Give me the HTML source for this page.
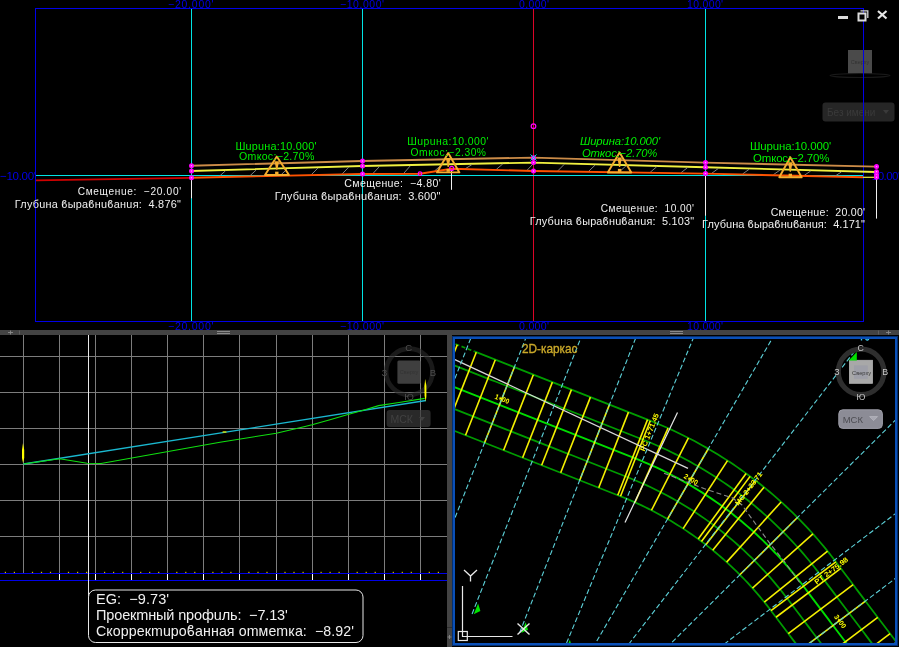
<!DOCTYPE html>
<html><head><meta charset="utf-8"><style>
html,body{margin:0;padding:0;background:#000;overflow:hidden;}
svg{display:block;font-family:"Liberation Sans",sans-serif;will-change:transform;}
</style></head><body>
<svg width="899" height="647" viewBox="0 0 899 647">
<rect x="0" y="0" width="899" height="647" fill="#000"/>
<line x1="35.00" y1="8.50" x2="863.50" y2="8.50" stroke="#0000e8" stroke-width="1" />
<line x1="35.00" y1="321.50" x2="863.50" y2="321.50" stroke="#0000e8" stroke-width="1" />
<line x1="35.50" y1="8.00" x2="35.50" y2="322.00" stroke="#0000e8" stroke-width="1" />
<line x1="863.50" y1="8.00" x2="863.50" y2="322.00" stroke="#0000e8" stroke-width="1" />
<line x1="191.50" y1="9.00" x2="191.50" y2="321.00" stroke="#00e4e4" stroke-width="1" />
<line x1="362.50" y1="9.00" x2="362.50" y2="321.00" stroke="#00e4e4" stroke-width="1" />
<line x1="705.50" y1="9.00" x2="705.50" y2="321.00" stroke="#00e4e4" stroke-width="1" />
<line x1="533.50" y1="9.00" x2="533.50" y2="321.00" stroke="#dc0528" stroke-width="1" />
<line x1="36.00" y1="175.50" x2="863.00" y2="175.50" stroke="#00e4e4" stroke-width="1" />
<text style="white-space:pre" x="168.00" y="8.30" font-family="Liberation Sans" font-style="normal" font-weight="normal" font-size="10.43" fill="#0000e8" textLength="45.61" lengthAdjust="spacing" >−20.000&#x27;</text>
<text style="white-space:pre" x="340.00" y="8.30" font-family="Liberation Sans" font-style="normal" font-weight="normal" font-size="10.43" fill="#0000e8" textLength="44.02" lengthAdjust="spacing" >−10.000&#x27;</text>
<text style="white-space:pre" x="519.00" y="8.30" font-family="Liberation Sans" font-style="normal" font-weight="normal" font-size="10.43" fill="#0000e8" textLength="30.00" lengthAdjust="spacing" >0.000&#x27;</text>
<text style="white-space:pre" x="687.00" y="8.30" font-family="Liberation Sans" font-style="normal" font-weight="normal" font-size="10.43" fill="#0000e8" textLength="36.03" lengthAdjust="spacing" >10.000&#x27;</text>
<text style="white-space:pre" x="168.00" y="329.50" font-family="Liberation Sans" font-style="normal" font-weight="normal" font-size="10.58" fill="#0000e8" textLength="45.61" lengthAdjust="spacing" >−20.000&#x27;</text>
<text style="white-space:pre" x="340.00" y="329.50" font-family="Liberation Sans" font-style="normal" font-weight="normal" font-size="10.58" fill="#0000e8" textLength="44.02" lengthAdjust="spacing" >−10.000&#x27;</text>
<text style="white-space:pre" x="519.00" y="329.50" font-family="Liberation Sans" font-style="normal" font-weight="normal" font-size="10.58" fill="#0000e8" textLength="30.00" lengthAdjust="spacing" >0.000&#x27;</text>
<text style="white-space:pre" x="687.00" y="329.50" font-family="Liberation Sans" font-style="normal" font-weight="normal" font-size="10.58" fill="#0000e8" textLength="36.03" lengthAdjust="spacing" >10.000&#x27;</text>
<text style="white-space:pre" x="0.00" y="180.00" font-family="Liberation Sans" font-style="normal" font-weight="normal" font-size="11.59" fill="#0000e8" textLength="36.01" lengthAdjust="spacing" >−10.00&#x27;</text>
<text style="white-space:pre" x="871.80" y="180.00" font-family="Liberation Sans" font-style="normal" font-weight="normal" font-size="11.59" fill="#0000e8" textLength="28.31" lengthAdjust="spacing" >10.00&#x27;</text>
<polyline points="191.00,165.70 362.00,161.00 533.00,157.60 705.00,162.60 876.00,166.60" fill="none" stroke="#cc8c48" stroke-width="1.9" />
<polyline points="191.00,171.00 362.00,166.00 533.00,162.60 705.00,167.30 876.00,172.00" fill="none" stroke="#f0f040" stroke-width="1.9" />
<line x1="219.00" y1="176.59" x2="225.50" y2="170.79" stroke="#8c8c8c" stroke-width="0.9" />
<line x1="249.80" y1="175.93" x2="256.30" y2="169.89" stroke="#8c8c8c" stroke-width="0.9" />
<line x1="280.60" y1="175.26" x2="287.10" y2="168.99" stroke="#8c8c8c" stroke-width="0.9" />
<line x1="311.40" y1="174.59" x2="317.90" y2="168.09" stroke="#8c8c8c" stroke-width="0.9" />
<line x1="342.20" y1="173.93" x2="348.70" y2="167.19" stroke="#8c8c8c" stroke-width="0.9" />
<line x1="373.00" y1="173.44" x2="379.50" y2="166.45" stroke="#8c8c8c" stroke-width="0.9" />
<line x1="403.80" y1="173.28" x2="410.30" y2="165.84" stroke="#8c8c8c" stroke-width="0.9" />
<line x1="434.60" y1="170.93" x2="441.10" y2="165.23" stroke="#8c8c8c" stroke-width="0.9" />
<line x1="465.40" y1="168.68" x2="471.90" y2="164.61" stroke="#8c8c8c" stroke-width="0.9" />
<line x1="496.20" y1="169.51" x2="502.70" y2="164.00" stroke="#8c8c8c" stroke-width="0.9" />
<line x1="527.00" y1="170.34" x2="533.50" y2="163.41" stroke="#8c8c8c" stroke-width="0.9" />
<line x1="557.80" y1="170.87" x2="564.30" y2="164.26" stroke="#8c8c8c" stroke-width="0.9" />
<line x1="588.60" y1="171.34" x2="595.10" y2="165.10" stroke="#8c8c8c" stroke-width="0.9" />
<line x1="619.40" y1="171.81" x2="625.90" y2="165.94" stroke="#8c8c8c" stroke-width="0.9" />
<line x1="650.20" y1="172.27" x2="656.70" y2="166.78" stroke="#8c8c8c" stroke-width="0.9" />
<line x1="681.00" y1="172.74" x2="687.50" y2="167.62" stroke="#8c8c8c" stroke-width="0.9" />
<line x1="711.80" y1="173.26" x2="718.30" y2="168.47" stroke="#8c8c8c" stroke-width="0.9" />
<line x1="742.60" y1="173.98" x2="749.10" y2="169.31" stroke="#8c8c8c" stroke-width="0.9" />
<line x1="773.40" y1="174.70" x2="779.90" y2="170.16" stroke="#8c8c8c" stroke-width="0.9" />
<line x1="804.20" y1="175.42" x2="810.70" y2="171.01" stroke="#8c8c8c" stroke-width="0.9" />
<line x1="835.00" y1="176.14" x2="841.50" y2="171.85" stroke="#8c8c8c" stroke-width="0.9" />
<polyline points="191.00,177.70 362.00,174.00 420.00,173.70 451.50,168.80 533.00,171.00 705.00,173.60 863.00,177.30" fill="none" stroke="#ff5200" stroke-width="1.9" />
<polyline points="36.00,180.30 191.00,177.90" fill="none" stroke="#d00000" stroke-width="1.8" />
<line x1="863.00" y1="177.30" x2="876.00" y2="177.30" stroke="#f0f040" stroke-width="1.2" />
<line x1="191.50" y1="179.00" x2="191.50" y2="198.30" stroke="#f0f0f0" stroke-width="1" />
<line x1="451.50" y1="170.00" x2="451.50" y2="189.80" stroke="#f0f0f0" stroke-width="1" />
<line x1="705.50" y1="176.00" x2="705.50" y2="215.70" stroke="#f0f0f0" stroke-width="1" />
<line x1="876.50" y1="179.00" x2="876.50" y2="218.60" stroke="#f0f0f0" stroke-width="1" />
<circle cx="191.5" cy="165.7" r="2.5" fill="#ff00ff"/><circle cx="191.5" cy="165.7" r="0.7" fill="#ffb0ff"/>
<circle cx="191.5" cy="171" r="2.5" fill="#ff00ff"/><circle cx="191.5" cy="171" r="0.7" fill="#ffb0ff"/>
<circle cx="191.5" cy="177.7" r="2.5" fill="#ff00ff"/><circle cx="191.5" cy="177.7" r="0.7" fill="#ffb0ff"/>
<circle cx="362.5" cy="161" r="2.5" fill="#ff00ff"/><circle cx="362.5" cy="161" r="0.7" fill="#ffb0ff"/>
<circle cx="362.5" cy="166" r="2.5" fill="#ff00ff"/><circle cx="362.5" cy="166" r="0.7" fill="#ffb0ff"/>
<circle cx="362.5" cy="174" r="2.5" fill="#ff00ff"/><circle cx="362.5" cy="174" r="0.7" fill="#ffb0ff"/>
<circle cx="533.5" cy="157.7" r="2.5" fill="#ff00ff"/><circle cx="533.5" cy="157.7" r="0.7" fill="#ffb0ff"/>
<circle cx="533.5" cy="162.6" r="2.5" fill="#ff00ff"/><circle cx="533.5" cy="162.6" r="0.7" fill="#ffb0ff"/>
<circle cx="533.5" cy="171" r="2.5" fill="#ff00ff"/><circle cx="533.5" cy="171" r="0.7" fill="#ffb0ff"/>
<circle cx="705.5" cy="162.6" r="2.5" fill="#ff00ff"/><circle cx="705.5" cy="162.6" r="0.7" fill="#ffb0ff"/>
<circle cx="705.5" cy="167.3" r="2.5" fill="#ff00ff"/><circle cx="705.5" cy="167.3" r="0.7" fill="#ffb0ff"/>
<circle cx="705.5" cy="173.6" r="2.5" fill="#ff00ff"/><circle cx="705.5" cy="173.6" r="0.7" fill="#ffb0ff"/>
<circle cx="876.5" cy="166.6" r="2.5" fill="#ff00ff"/><circle cx="876.5" cy="166.6" r="0.7" fill="#ffb0ff"/>
<circle cx="876.5" cy="171.8" r="2.5" fill="#ff00ff"/><circle cx="876.5" cy="171.8" r="0.7" fill="#ffb0ff"/>
<circle cx="876.5" cy="175" r="2.5" fill="#ff00ff"/><circle cx="876.5" cy="175" r="0.7" fill="#ffb0ff"/>
<circle cx="876.5" cy="177.2" r="2.5" fill="#ff00ff"/><circle cx="876.5" cy="177.2" r="0.7" fill="#ffb0ff"/>
<circle cx="533.5" cy="126.2" r="2.3" fill="none" stroke="#ff00ff" stroke-width="1.2"/>
<circle cx="420" cy="173.7" r="1.8" fill="none" stroke="#ff00ff" stroke-width="1.2"/>
<circle cx="451.7" cy="168.4" r="2.0" fill="none" stroke="#ff00ff" stroke-width="1.2"/>
<path d="M530.5,154.5 L536.5,160.5 M536.5,154.5 L530.5,160.5" stroke="#00e4e4" stroke-width="1"/>
<polygon points="276.8,156.5 289,175 265,175" fill="none" stroke="#f5ad2e" stroke-width="1.9" stroke-linejoin="round"/>
<polygon points="274.6,161.125 279.0,161.125 277.40000000000003,169.82 276.2,169.82" fill="#f5ad2e"/>
<rect x="275.1" y="171.67" width="3.4" height="2.775" fill="#f5ad2e"/>
<polygon points="448.2,153.1 459.4,172.4 437,172.4" fill="none" stroke="#f5ad2e" stroke-width="1.9" stroke-linejoin="round"/>
<polygon points="446.0,157.925 450.4,157.925 448.8,166.996 447.59999999999997,166.996" fill="#f5ad2e"/>
<rect x="446.5" y="168.926" width="3.4" height="2.895000000000002" fill="#f5ad2e"/>
<polygon points="619.6,152.5 631.3,172.5 607.8,172.5" fill="none" stroke="#f5ad2e" stroke-width="1.9" stroke-linejoin="round"/>
<polygon points="617.4,157.5 621.8000000000001,157.5 620.2,166.9 619.0,166.9" fill="#f5ad2e"/>
<rect x="617.9" y="168.9" width="3.4" height="3.0" fill="#f5ad2e"/>
<polygon points="790.3,157.2 801.7,177.3 779.3,177.3" fill="none" stroke="#f5ad2e" stroke-width="1.9" stroke-linejoin="round"/>
<polygon points="788.0999999999999,162.225 792.5,162.225 790.9,171.672 789.6999999999999,171.672" fill="#f5ad2e"/>
<rect x="788.5999999999999" y="173.68200000000002" width="3.4" height="3.0150000000000032" fill="#f5ad2e"/>
<text style="white-space:pre" x="235.40" y="149.50" font-family="Liberation Sans" font-style="normal" font-weight="normal" font-size="10.87" fill="#00f000" textLength="81.22" lengthAdjust="spacing" >Шuрuна:10.000&#x27;</text>
<text style="white-space:pre" x="239.00" y="159.70" font-family="Liberation Sans" font-style="normal" font-weight="normal" font-size="10.58" fill="#00f000" textLength="75.40" lengthAdjust="spacing" >Оmкос:−2.70%</text>
<text style="white-space:pre" x="407.20" y="144.60" font-family="Liberation Sans" font-style="normal" font-weight="normal" font-size="10.43" fill="#00f000" textLength="81.42" lengthAdjust="spacing" >Шuрuна:10.000&#x27;</text>
<text style="white-space:pre" x="410.60" y="156.30" font-family="Liberation Sans" font-style="normal" font-weight="normal" font-size="10.29" fill="#00f000" textLength="75.40" lengthAdjust="spacing" >Оmкос:−2.30%</text>
<text style="white-space:pre" x="579.90" y="145.40" font-family="Liberation Sans" font-style="italic" font-weight="normal" font-size="11.30" fill="#00f000" textLength="80.20" lengthAdjust="spacing" >Шuрuна:10.000&#x27;</text>
<text style="white-space:pre" x="582.00" y="156.60" font-family="Liberation Sans" font-style="italic" font-weight="normal" font-size="11.30" fill="#00f000" textLength="75.40" lengthAdjust="spacing" >Оmкос:−2.70%</text>
<text style="white-space:pre" x="749.90" y="149.50" font-family="Liberation Sans" font-style="normal" font-weight="normal" font-size="11.45" fill="#00f000" textLength="81.22" lengthAdjust="spacing" >Шuрuна:10.000&#x27;</text>
<text style="white-space:pre" x="753.00" y="161.50" font-family="Liberation Sans" font-style="normal" font-weight="normal" font-size="11.45" fill="#00f000" textLength="76.40" lengthAdjust="spacing" >Оmкос:−2.70%</text>
<text style="white-space:pre" x="77.70" y="195.00" font-family="Liberation Sans" font-style="normal" font-weight="normal" font-size="10.14" fill="#f0f0f0" textLength="103.41" lengthAdjust="spacing" >Смещенuе:  −20.00&#x27;</text>
<text style="white-space:pre" x="14.80" y="207.60" font-family="Liberation Sans" font-style="normal" font-weight="normal" font-size="10.87" fill="#f0f0f0" textLength="166.02" lengthAdjust="spacing" >Глубuна ϐыраϐнuϐанuя:  4.876&quot;</text>
<text style="white-space:pre" x="344.30" y="186.90" font-family="Liberation Sans" font-style="normal" font-weight="normal" font-size="10.58" fill="#f0f0f0" textLength="96.40" lengthAdjust="spacing" >Смещенuе:  −4.80&#x27;</text>
<text style="white-space:pre" x="274.80" y="199.60" font-family="Liberation Sans" font-style="normal" font-weight="normal" font-size="11.01" fill="#f0f0f0" textLength="165.61" lengthAdjust="spacing" >Глубuна ϐыраϐнuϐанuя:  3.600&quot;</text>
<text style="white-space:pre" x="600.80" y="212.00" font-family="Liberation Sans" font-style="normal" font-weight="normal" font-size="10.14" fill="#f0f0f0" textLength="93.20" lengthAdjust="spacing" >Смещенuе:  10.00&#x27;</text>
<text style="white-space:pre" x="529.80" y="224.80" font-family="Liberation Sans" font-style="normal" font-weight="normal" font-size="10.87" fill="#f0f0f0" textLength="164.21" lengthAdjust="spacing" >Глубuна ϐыраϐнuϐанuя:  5.103&quot;</text>
<text style="white-space:pre" x="770.70" y="215.50" font-family="Liberation Sans" font-style="normal" font-weight="normal" font-size="10.58" fill="#f0f0f0" textLength="94.40" lengthAdjust="spacing" >Смещенuе:  20.00&#x27;</text>
<text style="white-space:pre" x="702.10" y="227.90" font-family="Liberation Sans" font-style="normal" font-weight="normal" font-size="11.01" fill="#f0f0f0" textLength="162.81" lengthAdjust="spacing" >Глубuна ϐыраϐнuϐанuя:  4.171&quot;</text>
<rect x="838" y="16" width="10" height="3" fill="#dcdcdc"/>
<path d="M860.5,10.8 L867.8,10.8 L867.8,18" fill="none" stroke="#d8d8d8" stroke-width="1.3"/>
<rect x="858.5" y="13.5" width="7" height="7" fill="#000" stroke="#dcdcdc" stroke-width="2"/>
<path d="M878,11 L886.5,18.5 M886.5,11 L878,18.5" stroke="#e6e6e6" stroke-width="2.2"/>
<rect x="848" y="50" width="24" height="24" fill="#4a4a4a"/>
<text x="860" y="64" font-family="Liberation Sans" font-size="5.5" fill="#333" text-anchor="middle">Сверху</text>
<ellipse cx="860" cy="75.5" rx="30" ry="2" fill="none" stroke="#191919" stroke-width="1.1"/>
<rect x="822.5" y="102.5" width="72" height="19" rx="3" fill="#262626"/>
<text x="827" y="116" font-family="Liberation Sans" font-size="10" fill="#3a3a3a">Без имени</text>
<path d="M883,110 L889,110 L886,114 Z" fill="#3a3a3a"/>
<line x1="863.50" y1="40.00" x2="863.50" y2="130.00" stroke="#0000e8" stroke-width="1" />
<rect x="0" y="330" width="899" height="5" fill="#434343"/>
<rect x="447" y="330" width="5" height="317" fill="#434343"/>
<path d="M8,332.5 H13 M10.5,330.5 V334.5" stroke="#8a8a8a" stroke-width="0.9"/>
<line x1="19.50" y1="330.50" x2="19.50" y2="334.50" stroke="#5e5e5e" stroke-width="1" />
<path d="M886,332.5 H891 M888.5,330.5 V334.5" stroke="#8a8a8a" stroke-width="0.9"/>
<line x1="878.50" y1="330.50" x2="878.50" y2="334.50" stroke="#5e5e5e" stroke-width="1" />
<rect x="217" y="331" width="13" height="1" fill="#8a8a8a"/><rect x="217" y="333" width="13" height="1" fill="#8a8a8a"/>
<rect x="670" y="331" width="13" height="1" fill="#8a8a8a"/><rect x="670" y="333" width="13" height="1" fill="#8a8a8a"/>
<path d="M447.5,637 H451.5 M449.5,635 V639" stroke="#8a8a8a" stroke-width="0.9"/>
<line x1="447.00" y1="627.50" x2="452.00" y2="627.50" stroke="#2e2e2e" stroke-width="1" />
<g shape-rendering="crispEdges">
<line x1="0.00" y1="356.50" x2="447.00" y2="356.50" stroke="#7c7c7c" stroke-width="1" />
<line x1="0.00" y1="392.50" x2="447.00" y2="392.50" stroke="#7c7c7c" stroke-width="1" />
<line x1="0.00" y1="428.50" x2="447.00" y2="428.50" stroke="#7c7c7c" stroke-width="1" />
<line x1="0.00" y1="464.50" x2="447.00" y2="464.50" stroke="#7c7c7c" stroke-width="1" />
<line x1="0.00" y1="500.50" x2="447.00" y2="500.50" stroke="#7c7c7c" stroke-width="1" />
<line x1="0.00" y1="536.50" x2="447.00" y2="536.50" stroke="#7c7c7c" stroke-width="1" />
<line x1="23.50" y1="335.00" x2="23.50" y2="573.00" stroke="#7c7c7c" stroke-width="1" />
<line x1="59.58" y1="335.00" x2="59.58" y2="573.00" stroke="#7c7c7c" stroke-width="1" />
<line x1="95.66" y1="335.00" x2="95.66" y2="573.00" stroke="#7c7c7c" stroke-width="1" />
<line x1="131.74" y1="335.00" x2="131.74" y2="573.00" stroke="#7c7c7c" stroke-width="1" />
<line x1="167.82" y1="335.00" x2="167.82" y2="573.00" stroke="#7c7c7c" stroke-width="1" />
<line x1="203.90" y1="335.00" x2="203.90" y2="573.00" stroke="#7c7c7c" stroke-width="1" />
<line x1="239.98" y1="335.00" x2="239.98" y2="573.00" stroke="#7c7c7c" stroke-width="1" />
<line x1="276.06" y1="335.00" x2="276.06" y2="573.00" stroke="#7c7c7c" stroke-width="1" />
<line x1="312.14" y1="335.00" x2="312.14" y2="573.00" stroke="#7c7c7c" stroke-width="1" />
<line x1="348.22" y1="335.00" x2="348.22" y2="573.00" stroke="#7c7c7c" stroke-width="1" />
<line x1="384.30" y1="335.00" x2="384.30" y2="573.00" stroke="#7c7c7c" stroke-width="1" />
<line x1="420.38" y1="335.00" x2="420.38" y2="573.00" stroke="#7c7c7c" stroke-width="1" />
<line x1="0.00" y1="573.50" x2="447.00" y2="573.50" stroke="#0000e8" stroke-width="1.3" />
<line x1="0.00" y1="580.50" x2="447.00" y2="580.50" stroke="#0000e8" stroke-width="1.3" />
<line x1="59.58" y1="574.00" x2="59.58" y2="580.00" stroke="#ffffff" stroke-width="1" />
<line x1="95.66" y1="574.00" x2="95.66" y2="580.00" stroke="#ffffff" stroke-width="1" />
<line x1="131.74" y1="574.00" x2="131.74" y2="580.00" stroke="#ffffff" stroke-width="1" />
<line x1="167.82" y1="574.00" x2="167.82" y2="580.00" stroke="#ffffff" stroke-width="1" />
<line x1="203.90" y1="574.00" x2="203.90" y2="580.00" stroke="#ffffff" stroke-width="1" />
<line x1="239.98" y1="574.00" x2="239.98" y2="580.00" stroke="#ffffff" stroke-width="1" />
<line x1="276.06" y1="574.00" x2="276.06" y2="580.00" stroke="#ffffff" stroke-width="1" />
<line x1="312.14" y1="574.00" x2="312.14" y2="580.00" stroke="#ffffff" stroke-width="1" />
<line x1="348.22" y1="574.00" x2="348.22" y2="580.00" stroke="#ffffff" stroke-width="1" />
<line x1="384.30" y1="574.00" x2="384.30" y2="580.00" stroke="#ffffff" stroke-width="1" />
<line x1="420.38" y1="574.00" x2="420.38" y2="580.00" stroke="#ffffff" stroke-width="1" />
</g>
<rect x="4.8" y="571.8" width="1.2" height="1.2" fill="#d8c000"/>
<rect x="13.8" y="571.8" width="1.2" height="1.2" fill="#d8c000"/>
<rect x="31.9" y="571.8" width="1.2" height="1.2" fill="#d8c000"/>
<rect x="40.9" y="571.8" width="1.2" height="1.2" fill="#d8c000"/>
<rect x="49.9" y="571.8" width="1.2" height="1.2" fill="#d8c000"/>
<rect x="67.9" y="571.8" width="1.2" height="1.2" fill="#d8c000"/>
<rect x="77.0" y="571.8" width="1.2" height="1.2" fill="#d8c000"/>
<rect x="86.0" y="571.8" width="1.2" height="1.2" fill="#d8c000"/>
<rect x="104.0" y="571.8" width="1.2" height="1.2" fill="#d8c000"/>
<rect x="113.0" y="571.8" width="1.2" height="1.2" fill="#d8c000"/>
<rect x="122.1" y="571.8" width="1.2" height="1.2" fill="#d8c000"/>
<rect x="140.1" y="571.8" width="1.2" height="1.2" fill="#d8c000"/>
<rect x="149.1" y="571.8" width="1.2" height="1.2" fill="#d8c000"/>
<rect x="158.1" y="571.8" width="1.2" height="1.2" fill="#d8c000"/>
<rect x="176.2" y="571.8" width="1.2" height="1.2" fill="#d8c000"/>
<rect x="185.2" y="571.8" width="1.2" height="1.2" fill="#d8c000"/>
<rect x="194.2" y="571.8" width="1.2" height="1.2" fill="#d8c000"/>
<rect x="212.3" y="571.8" width="1.2" height="1.2" fill="#d8c000"/>
<rect x="221.3" y="571.8" width="1.2" height="1.2" fill="#d8c000"/>
<rect x="230.3" y="571.8" width="1.2" height="1.2" fill="#d8c000"/>
<rect x="248.3" y="571.8" width="1.2" height="1.2" fill="#d8c000"/>
<rect x="257.4" y="571.8" width="1.2" height="1.2" fill="#d8c000"/>
<rect x="266.4" y="571.8" width="1.2" height="1.2" fill="#d8c000"/>
<rect x="284.4" y="571.8" width="1.2" height="1.2" fill="#d8c000"/>
<rect x="293.4" y="571.8" width="1.2" height="1.2" fill="#d8c000"/>
<rect x="302.5" y="571.8" width="1.2" height="1.2" fill="#d8c000"/>
<rect x="320.5" y="571.8" width="1.2" height="1.2" fill="#d8c000"/>
<rect x="329.5" y="571.8" width="1.2" height="1.2" fill="#d8c000"/>
<rect x="338.5" y="571.8" width="1.2" height="1.2" fill="#d8c000"/>
<rect x="356.6" y="571.8" width="1.2" height="1.2" fill="#d8c000"/>
<rect x="365.6" y="571.8" width="1.2" height="1.2" fill="#d8c000"/>
<rect x="374.6" y="571.8" width="1.2" height="1.2" fill="#d8c000"/>
<rect x="392.7" y="571.8" width="1.2" height="1.2" fill="#d8c000"/>
<rect x="401.7" y="571.8" width="1.2" height="1.2" fill="#d8c000"/>
<rect x="410.7" y="571.8" width="1.2" height="1.2" fill="#d8c000"/>
<rect x="428.7" y="571.8" width="1.2" height="1.2" fill="#d8c000"/>
<rect x="437.8" y="571.8" width="1.2" height="1.2" fill="#d8c000"/>
<line x1="88.50" y1="335.00" x2="88.50" y2="596.00" stroke="#e8e8e8" stroke-width="1" />
<circle cx="409.3" cy="371.8" r="23.2" fill="none" stroke="#2c2c2c" stroke-width="4.6" opacity="0.6"/>
<rect x="397.4" y="360.5" width="23.2" height="23.2" rx="1.5" fill="#4a4a4a" opacity="0.85"/>
<text x="409" y="374" font-family="Liberation Sans" font-size="5.5" fill="#333" text-anchor="middle">Сверху</text>
<text x="408.7" y="351" font-family="Liberation Sans" font-size="9.5" fill="#4e4e4e" text-anchor="middle">С</text>
<text x="384.3" y="375.5" font-family="Liberation Sans" font-size="9.5" fill="#4e4e4e" text-anchor="middle">З</text>
<text x="433" y="375.5" font-family="Liberation Sans" font-size="9.5" fill="#4e4e4e" text-anchor="middle">В</text>
<text x="409" y="400" font-family="Liberation Sans" font-size="9.5" fill="#4e4e4e" text-anchor="middle">Ю</text>
<rect x="386.6" y="410" width="44" height="17" rx="3" fill="#3a3a3a" opacity="0.7"/>
<text x="390.5" y="423" font-family="Liberation Sans" font-size="10.5" fill="#414141">МСК</text>
<path d="M419,417 L425,417 L422,421 Z" fill="#414141"/>
<polyline points="23.50,464.00 426.00,400.50" fill="none" stroke="#1ab8d0" stroke-width="1.3" />
<polyline points="23.50,464.00 59.60,458.70 87.00,463.20 101.00,463.50 220.00,442.20 276.30,433.20 301.90,427.30 312.10,424.80 330.00,419.70 347.90,414.50 363.30,410.20 378.60,405.60 399.00,402.50 424.70,398.40" fill="none" stroke="#10e010" stroke-width="1.1" />
<path d="M23,443 L24.2,450 L24.2,458 L23,463 L22,458 L22,450 Z" fill="#ffff00"/>
<path d="M425.2,379 L426.4,386 L426.4,396 L425.8,401.5 L424.6,396 L424.4,386 Z" fill="#ffff00"/>
<rect x="222.6" y="431.3" width="3.8" height="1.4" fill="#e0e000"/>
<rect x="88.5" y="590" width="274.5" height="52.5" rx="7" ry="7" fill="#000" stroke="#e8e8e8" stroke-width="1"/>
<text style="white-space:pre" x="96.00" y="603.80" font-family="Liberation Sans" font-style="normal" font-weight="normal" font-size="14.49" fill="#f0f0f0" textLength="73.01" lengthAdjust="spacing" >EG:  −9.73&#x27;</text>
<text style="white-space:pre" x="96.00" y="619.80" font-family="Liberation Sans" font-style="normal" font-weight="normal" font-size="14.49" fill="#f0f0f0" textLength="191.81" lengthAdjust="spacing" >Проекmный nрофuль:  −7.13&#x27;</text>
<text style="white-space:pre" x="96.00" y="636.00" font-family="Liberation Sans" font-style="normal" font-weight="normal" font-size="14.20" fill="#f0f0f0" textLength="258.00" lengthAdjust="spacing" >Скоррекmuроϐанная оmмеmка:  −8.92&#x27;</text>
<defs><clipPath id="cp"><rect x="453" y="337" width="444" height="308"/></clipPath></defs>
<g clip-path="url(#cp)">
<polyline points="430.78,356.08 434.59,357.58 438.39,359.08 442.20,360.58 446.01,362.08 449.81,363.58 453.62,365.08 457.42,366.57 461.23,368.07 465.03,369.57 468.84,371.07 472.64,372.57 476.45,374.07 480.25,375.57 484.06,377.07 487.86,378.57 491.67,380.07 495.48,381.56 499.28,383.06 503.09,384.56 506.89,386.06 510.70,387.56 514.50,389.06 518.31,390.56 522.11,392.06 525.92,393.56 529.72,395.06 533.53,396.55 537.34,398.05 541.14,399.55 544.95,401.05 548.75,402.55 552.56,404.05 556.36,405.55 560.17,407.05 563.97,408.55 567.78,410.04 571.58,411.54 575.39,413.04 579.19,414.54 583.00,416.04 586.81,417.54 590.61,419.04 594.42,420.54 598.22,422.04 602.03,423.54 605.83,425.03 609.64,426.53 613.44,428.03 617.25,429.53 621.05,431.03 624.86,432.53 628.66,434.03 632.47,435.53 636.28,437.03 640.08,438.53 643.94,440.05 647.93,441.66 651.91,443.31 655.86,445.00 659.80,446.74 663.72,448.51 667.62,450.33 671.50,452.19 675.36,454.09 679.21,456.03 683.03,458.01 686.83,460.03 690.61,462.09 694.36,464.19 698.10,466.32 701.81,468.50 705.50,470.72 709.16,472.97 712.80,475.27 716.42,477.60 720.01,479.97 723.58,482.38 727.12,484.82 730.64,487.30 734.13,489.82 737.59,492.38 741.02,494.97 744.43,497.60 747.81,500.26 751.16,502.96 754.49,505.69 757.78,508.46 761.05,511.26 764.28,514.10 767.49,516.97 770.67,519.88 773.81,522.81 776.92,525.78 780.01,528.79 783.06,531.82 786.07,534.89 789.06,537.99 792.01,541.12 794.93,544.28 797.82,547.47 800.67,550.69 803.49,553.94 806.28,557.23 809.03,560.54 811.74,563.87 814.42,567.24 817.07,570.64 819.67,574.06 822.14,577.32 824.60,580.59 827.06,583.86 829.52,587.12 831.99,590.39 834.45,593.65 836.91,596.92 839.37,600.18 841.83,603.45 844.30,606.72 846.76,609.98 849.22,613.25 851.68,616.51 854.15,619.78 856.61,623.04 859.07,626.31 861.53,629.58 863.99,632.84 866.46,636.11 868.92,639.37 871.38,642.64 873.84,645.91 876.31,649.17 878.77,652.44 881.23,655.70 883.69,658.97 886.15,662.23 888.62,665.50 891.08,668.77 893.54,672.03 896.00,675.30 898.47,678.56 900.93,681.83 903.39,685.09 905.85,688.36 908.32,691.63 910.78,694.89 913.24,698.16 915.70,701.42 918.16,704.69 920.63,707.96 923.09,711.22 925.55,714.49 928.01,717.75 930.48,721.02 932.94,724.28 935.40,727.55 937.86,730.82 940.32,734.08 942.79,737.35 945.25,740.61 947.71,743.88 950.17,747.14 952.64,750.41 955.10,753.68 957.56,756.94 960.02,760.21 962.49,763.47 964.95,766.74 967.41,770.01 969.87,773.27 972.33,776.54 974.80,779.80 977.26,783.07 979.72,786.33 982.18,789.60 984.65,792.87 987.11,796.13 989.57,799.40 992.03,802.66 994.49,805.93 996.96,809.19" fill="none" stroke="#009c00" stroke-width="1.75" />
<polyline points="415.90,393.86 419.71,395.36 423.51,396.85 427.32,398.35 431.13,399.85 434.93,401.35 438.74,402.85 442.54,404.35 446.35,405.85 450.15,407.35 453.96,408.85 457.76,410.35 461.57,411.84 465.37,413.34 469.18,414.84 472.98,416.34 476.79,417.84 480.60,419.34 484.40,420.84 488.21,422.34 492.01,423.84 495.82,425.34 499.62,426.83 503.43,428.33 507.23,429.83 511.04,431.33 514.84,432.83 518.65,434.33 522.46,435.83 526.26,437.33 530.07,438.83 533.87,440.32 537.68,441.82 541.48,443.32 545.29,444.82 549.09,446.32 552.90,447.82 556.70,449.32 560.51,450.82 564.31,452.32 568.12,453.82 571.93,455.31 575.73,456.81 579.54,458.31 583.34,459.81 587.15,461.31 590.95,462.81 594.76,464.31 598.56,465.81 602.37,467.31 606.17,468.81 609.98,470.30 613.78,471.80 617.59,473.30 621.40,474.80 625.20,476.30 628.95,477.78 632.55,479.23 636.13,480.72 639.69,482.24 643.24,483.81 646.77,485.41 650.28,487.04 653.78,488.72 657.26,490.43 660.72,492.17 664.16,493.96 667.58,495.78 670.99,497.63 674.37,499.52 677.74,501.45 681.08,503.41 684.40,505.41 687.70,507.44 690.98,509.51 694.24,511.61 697.48,513.74 700.69,515.91 703.88,518.11 707.05,520.35 710.19,522.62 713.31,524.92 716.40,527.25 719.47,529.62 722.52,532.02 725.54,534.45 728.53,536.91 731.50,539.41 734.44,541.93 737.36,544.49 740.25,547.07 743.11,549.69 745.94,552.34 748.74,555.01 751.52,557.72 754.27,560.45 756.99,563.21 759.68,566.01 762.34,568.82 764.97,571.67 767.57,574.55 770.14,577.45 772.68,580.38 775.19,583.33 777.66,586.32 780.11,589.32 782.52,592.36 784.90,595.42 787.26,598.50 789.72,601.77 792.18,605.03 794.64,608.30 797.10,611.56 799.57,614.83 802.03,618.09 804.49,621.36 806.95,624.63 809.42,627.89 811.88,631.16 814.34,634.42 816.80,637.69 819.26,640.96 821.73,644.22 824.19,647.49 826.65,650.75 829.11,654.02 831.58,657.28 834.04,660.55 836.50,663.82 838.96,667.08 841.43,670.35 843.89,673.61 846.35,676.88 848.81,680.14 851.27,683.41 853.74,686.68 856.20,689.94 858.66,693.21 861.12,696.47 863.59,699.74 866.05,703.01 868.51,706.27 870.97,709.54 873.43,712.80 875.90,716.07 878.36,719.33 880.82,722.60 883.28,725.87 885.75,729.13 888.21,732.40 890.67,735.66 893.13,738.93 895.60,742.19 898.06,745.46 900.52,748.73 902.98,751.99 905.44,755.26 907.91,758.52 910.37,761.79 912.83,765.06 915.29,768.32 917.76,771.59 920.22,774.85 922.68,778.12 925.14,781.38 927.60,784.65 930.07,787.92 932.53,791.18 934.99,794.45 937.45,797.71 939.92,800.98 942.38,804.24 944.84,807.51 947.30,810.78 949.76,814.04 952.23,817.31 954.69,820.57 957.15,823.84 959.61,827.11 962.08,830.37 964.54,833.64" fill="none" stroke="#009c00" stroke-width="1.75" />
<polyline points="408.46,412.74 412.27,414.24 416.07,415.74 419.88,417.24 423.69,418.74 427.49,420.24 431.30,421.74 435.10,423.24 438.91,424.74 442.71,426.23 446.52,427.73 450.32,429.23 454.13,430.73 457.93,432.23 461.74,433.73 465.54,435.23 469.35,436.73 473.16,438.23 476.96,439.73 480.77,441.22 484.57,442.72 488.38,444.22 492.18,445.72 495.99,447.22 499.79,448.72 503.60,450.22 507.40,451.72 511.21,453.22 515.02,454.72 518.82,456.21 522.63,457.71 526.43,459.21 530.24,460.71 534.04,462.21 537.85,463.71 541.65,465.21 545.46,466.71 549.26,468.21 553.07,469.71 556.87,471.20 560.68,472.70 564.49,474.20 568.29,475.70 572.10,477.20 575.90,478.70 579.71,480.20 583.51,481.70 587.32,483.20 591.12,484.70 594.93,486.19 598.73,487.69 602.54,489.19 606.34,490.69 610.15,492.19 613.96,493.69 617.76,495.19 621.46,496.65 624.85,498.02 628.24,499.42 631.60,500.86 634.96,502.34 638.29,503.85 641.61,505.40 644.92,506.98 648.20,508.60 651.47,510.25 654.73,511.93 657.96,513.65 661.18,515.40 664.38,517.19 667.55,519.01 670.71,520.87 673.85,522.75 676.97,524.67 680.07,526.62 683.15,528.61 686.21,530.63 689.25,532.68 692.26,534.76 695.25,536.87 698.22,539.01 701.17,541.19 704.10,543.39 707.00,545.63 709.87,547.90 712.73,550.19 715.56,552.52 718.36,554.88 721.14,557.26 723.89,559.68 726.62,562.12 729.33,564.60 732.00,567.10 734.65,569.62 737.28,572.18 739.87,574.76 742.44,577.38 744.98,580.01 747.50,582.68 749.98,585.37 752.44,588.09 754.87,590.83 757.27,593.60 759.64,596.39 761.98,599.21 764.29,602.05 766.57,604.91 768.82,607.80 771.05,610.72 773.51,613.99 775.97,617.25 778.43,620.52 780.90,623.78 783.36,627.05 785.82,630.32 788.28,633.58 790.74,636.85 793.21,640.11 795.67,643.38 798.13,646.64 800.59,649.91 803.06,653.18 805.52,656.44 807.98,659.71 810.44,662.97 812.90,666.24 815.37,669.51 817.83,672.77 820.29,676.04 822.75,679.30 825.22,682.57 827.68,685.83 830.14,689.10 832.60,692.37 835.07,695.63 837.53,698.90 839.99,702.16 842.45,705.43 844.91,708.69 847.38,711.96 849.84,715.23 852.30,718.49 854.76,721.76 857.23,725.02 859.69,728.29 862.15,731.56 864.61,734.82 867.07,738.09 869.54,741.35 872.00,744.62 874.46,747.88 876.92,751.15 879.39,754.42 881.85,757.68 884.31,760.95 886.77,764.21 889.23,767.48 891.70,770.74 894.16,774.01 896.62,777.28 899.08,780.54 901.55,783.81 904.01,787.07 906.47,790.34 908.93,793.61 911.40,796.87 913.86,800.14 916.32,803.40 918.78,806.67 921.24,809.93 923.71,813.20 926.17,816.47 928.63,819.73 931.09,823.00 933.56,826.26 936.02,829.53 938.48,832.79 940.94,836.06 943.40,839.33 945.87,842.59 948.33,845.86" fill="none" stroke="#009c00" stroke-width="1.75" />
<polyline points="474.37,351.43 478.18,352.93 481.99,354.43 485.79,355.93 489.60,357.43 493.40,358.93 497.21,360.43 501.01,361.93 504.82,363.43 508.62,364.93 512.43,366.42 516.23,367.92 520.04,369.42 523.85,370.92 527.65,372.42 531.46,373.92 535.26,375.42 539.07,376.92 542.87,378.42 546.68,379.92 550.48,381.41 554.29,382.91 558.09,384.41 561.90,385.91 565.70,387.41 569.51,388.91 573.32,390.41 577.12,391.91 580.93,393.41 584.73,394.90 588.54,396.40 592.34,397.90 596.15,399.40 599.95,400.90 603.76,402.40 607.56,403.90 611.37,405.40 615.18,406.90 618.98,408.40 622.79,409.89 626.59,411.39 630.40,412.89 634.20,414.39 638.01,415.89 641.81,417.39 645.62,418.89 649.42,420.39 653.53,422.02 657.71,423.73 661.87,425.49 666.02,427.29 670.14,429.13 674.24,431.02 678.33,432.94 682.39,434.92 686.44,436.93 690.46,438.99 694.46,441.09 698.43,443.23 702.39,445.41 706.32,447.63 710.23,449.90 714.11,452.21 717.97,454.55 721.81,456.94 725.61,459.37 729.40,461.83 733.15,464.34 736.89,466.89 740.59,469.47 744.27,472.10 747.91,474.76 751.53,477.46 755.13,480.20 758.69,482.98 762.22,485.79 765.73,488.64 769.20,491.53 772.64,494.45 776.05,497.41 779.43,500.41 782.78,503.44 786.10,506.51 789.38,509.61 792.64,512.74 795.85,515.91 799.04,519.11 802.19,522.35 805.31,525.62 808.39,528.92 811.44,532.25 814.45,535.62 817.43,539.02 820.37,542.45 823.27,545.90 826.14,549.39 828.97,552.91 831.76,556.46 834.52,560.04 837.11,563.47 839.58,566.74 842.04,570.00 844.50,573.27 846.96,576.53 849.43,579.80 851.89,583.06 854.35,586.33 856.81,589.60 859.27,592.86 861.74,596.13 864.20,599.39 866.66,602.66 869.12,605.93 871.59,609.19 874.05,612.46 876.51,615.72 878.97,618.99 881.43,622.25 883.90,625.52 886.36,628.79 888.82,632.05 891.28,635.32 893.75,638.58 896.21,641.85 898.67,645.11 901.13,648.38 903.60,651.65 906.06,654.91 908.52,658.18 910.98,661.44 913.44,664.71 915.91,667.98 918.37,671.24 920.83,674.51 923.29,677.77 925.76,681.04 928.22,684.30 930.68,687.57 933.14,690.84 935.60,694.10 938.07,697.37 940.53,700.63 942.99,703.90 945.45,707.16 947.92,710.43 950.38,713.70 952.84,716.96 955.30,720.23 957.76,723.49 960.23,726.76 962.69,730.03 965.15,733.29 967.61,736.56 970.08,739.82 972.54,743.09 975.00,746.35 977.46,749.62 979.93,752.89 982.39,756.15 984.85,759.42 987.31,762.68 989.77,765.95 992.24,769.21 994.70,772.48 997.16,775.75 999.62,779.01 1002.09,782.28 1004.55,785.54 1007.01,788.81 1009.47,792.08 1011.93,795.34" fill="none" stroke="#009c00" stroke-width="1.75" />
<polyline points="419.20,329.70 421.10,330.45 423.00,331.20 424.90,331.95 426.81,332.70 428.71,333.45 430.61,334.20 432.52,334.95 434.42,335.69 436.32,336.44 438.22,337.19 440.13,337.94 442.03,338.69 443.93,339.44 445.83,340.19 447.74,340.94 449.64,341.69 451.54,342.44 453.45,343.19 455.35,343.94 457.25,344.69 459.15,345.44 461.06,346.19 462.96,346.94 464.86,347.69 466.76,348.44 468.67,349.19 470.57,349.94 472.47,350.68 474.37,351.43" fill="none" stroke="#009c00" stroke-width="1.75" stroke-dasharray="4,2.5"/>
<polyline points="423.34,374.97 427.15,376.47 430.95,377.97 434.76,379.47 438.57,380.96 442.37,382.46 446.18,383.96 449.98,385.46 453.79,386.96 457.59,388.46 461.40,389.96 465.20,391.46 469.01,392.96 472.81,394.46 476.62,395.95 480.42,397.45 484.23,398.95 488.04,400.45 491.84,401.95 495.65,403.45 499.45,404.95 503.26,406.45 507.06,407.95 510.87,409.45 514.67,410.94 518.48,412.44 522.28,413.94 526.09,415.44 529.90,416.94 533.70,418.44 537.51,419.94 541.31,421.44 545.12,422.94 548.92,424.44 552.73,425.93 556.53,427.43 560.34,428.93 564.14,430.43 567.95,431.93 571.75,433.43 575.56,434.93 579.37,436.43 583.17,437.93 586.98,439.43 590.78,440.92 594.59,442.42 598.39,443.92 602.20,445.42 606.00,446.92 609.81,448.42 613.61,449.92 617.42,451.42 621.22,452.92 625.03,454.42 628.84,455.91 632.64,457.41 636.45,458.91 640.24,460.44 644.02,462.01 647.78,463.62 651.52,465.27 655.24,466.96 658.95,468.69 662.64,470.45 666.31,472.26 669.96,474.10 673.59,475.98 677.20,477.90 680.80,479.86 684.37,481.85 687.92,483.89 691.44,485.96 694.95,488.06 698.43,490.21 701.89,492.39 705.33,494.60 708.74,496.85 712.13,499.14 715.50,501.47 718.84,503.83 722.16,506.22 725.45,508.65 728.71,511.11 731.95,513.61 735.17,516.14 738.35,518.70 741.51,521.30 744.64,523.93 747.75,526.60 750.82,529.29 753.87,532.02 756.89,534.78 759.87,537.57 762.83,540.40 765.76,543.25 768.66,546.14 771.53,549.05 774.37,552.00 777.18,554.97 779.95,557.98 782.69,561.01 785.41,564.07 788.08,567.16 790.73,570.28 793.35,573.43 795.93,576.60 798.47,579.80 800.99,583.03 803.46,586.28 805.93,589.54 808.39,592.81 810.85,596.08 813.31,599.34 815.78,602.61 818.24,605.87 820.70,609.14 823.16,612.41 825.62,615.67 828.09,618.94 830.55,622.20 833.01,625.47 835.47,628.73 837.94,632.00 840.40,635.27 842.86,638.53 845.32,641.80 847.79,645.06 850.25,648.33 852.71,651.59 855.17,654.86 857.63,658.13 860.10,661.39 862.56,664.66 865.02,667.92 867.48,671.19 869.95,674.46 872.41,677.72 874.87,680.99 877.33,684.25 879.79,687.52 882.26,690.78 884.72,694.05 887.18,697.32 889.64,700.58 892.11,703.85 894.57,707.11 897.03,710.38 899.49,713.64 901.96,716.91 904.42,720.18 906.88,723.44 909.34,726.71 911.80,729.97 914.27,733.24 916.73,736.51 919.19,739.77 921.65,743.04 924.12,746.30 926.58,749.57 929.04,752.83 931.50,756.10 933.96,759.37 936.43,762.63 938.89,765.90 941.35,769.16 943.81,772.43 946.28,775.69 948.74,778.96 951.20,782.23 953.66,785.49 956.12,788.76 958.59,792.02 961.05,795.29 963.51,798.56 965.97,801.82 968.44,805.09 970.90,808.35 973.36,811.62 975.82,814.88 978.29,818.15 980.75,821.42" fill="none" stroke="#00dc00" stroke-width="1.9" />
<line x1="438.22" y1="337.19" x2="408.46" y2="412.74" stroke="#f5f000" stroke-width="1.6" />
<line x1="457.25" y1="344.69" x2="427.49" y2="420.24" stroke="#f5f000" stroke-width="1.6" />
<line x1="476.28" y1="352.18" x2="446.52" y2="427.73" stroke="#f5f000" stroke-width="1.6" />
<line x1="495.30" y1="359.68" x2="465.54" y2="435.23" stroke="#f5f000" stroke-width="1.6" />
<line x1="514.33" y1="367.17" x2="484.57" y2="442.72" stroke="#f5f000" stroke-width="1.6" />
<line x1="533.36" y1="374.67" x2="503.60" y2="450.22" stroke="#f5f000" stroke-width="1.6" />
<line x1="552.39" y1="382.16" x2="522.63" y2="457.71" stroke="#f5f000" stroke-width="1.6" />
<line x1="571.41" y1="389.66" x2="541.65" y2="465.21" stroke="#f5f000" stroke-width="1.6" />
<line x1="590.44" y1="397.15" x2="560.68" y2="472.70" stroke="#f5f000" stroke-width="1.6" />
<line x1="609.47" y1="404.65" x2="579.71" y2="480.20" stroke="#f5f000" stroke-width="1.6" />
<line x1="628.49" y1="412.14" x2="598.73" y2="487.69" stroke="#f5f000" stroke-width="1.6" />
<line x1="647.52" y1="419.64" x2="617.76" y2="495.19" stroke="#f5f000" stroke-width="1.6" />
<line x1="668.08" y1="428.20" x2="634.96" y2="502.34" stroke="#f5f000" stroke-width="1.6" />
<line x1="688.45" y1="437.95" x2="651.47" y2="510.25" stroke="#f5f000" stroke-width="1.6" />
<line x1="708.28" y1="448.76" x2="667.55" y2="519.01" stroke="#f5f000" stroke-width="1.6" />
<line x1="727.51" y1="460.60" x2="683.15" y2="528.61" stroke="#f5f000" stroke-width="1.6" />
<line x1="746.09" y1="473.42" x2="698.22" y2="539.01" stroke="#f5f000" stroke-width="1.6" />
<line x1="763.98" y1="487.21" x2="712.73" y2="550.19" stroke="#f5f000" stroke-width="1.6" />
<line x1="781.11" y1="501.92" x2="726.62" y2="562.12" stroke="#f5f000" stroke-width="1.6" />
<line x1="797.45" y1="517.51" x2="739.87" y2="574.76" stroke="#f5f000" stroke-width="1.6" />
<line x1="812.95" y1="533.93" x2="752.44" y2="588.09" stroke="#f5f000" stroke-width="1.6" />
<line x1="827.56" y1="551.15" x2="764.29" y2="602.05" stroke="#f5f000" stroke-width="1.6" />
<line x1="840.81" y1="568.37" x2="775.97" y2="617.25" stroke="#f5f000" stroke-width="1.6" />
<line x1="853.12" y1="584.70" x2="788.28" y2="633.58" stroke="#f5f000" stroke-width="1.6" />
<line x1="865.43" y1="601.03" x2="800.59" y2="649.91" stroke="#f5f000" stroke-width="1.6" />
<line x1="877.74" y1="617.36" x2="812.90" y2="666.24" stroke="#f5f000" stroke-width="1.6" />
<line x1="890.05" y1="633.68" x2="825.22" y2="682.57" stroke="#f5f000" stroke-width="1.6" />
<line x1="902.36" y1="650.01" x2="837.53" y2="698.90" stroke="#f5f000" stroke-width="1.6" />
<line x1="914.68" y1="666.34" x2="849.84" y2="715.23" stroke="#f5f000" stroke-width="1.6" />
<line x1="926.99" y1="682.67" x2="862.15" y2="731.56" stroke="#f5f000" stroke-width="1.6" />
<line x1="939.30" y1="699.00" x2="874.46" y2="747.88" stroke="#f5f000" stroke-width="1.6" />
<line x1="951.61" y1="715.33" x2="886.77" y2="764.21" stroke="#f5f000" stroke-width="1.6" />
<line x1="963.92" y1="731.66" x2="899.08" y2="780.54" stroke="#f5f000" stroke-width="1.6" />
<line x1="976.23" y1="747.99" x2="911.40" y2="796.87" stroke="#f5f000" stroke-width="1.6" />
<line x1="988.54" y1="764.32" x2="923.71" y2="813.20" stroke="#f5f000" stroke-width="1.6" />
<line x1="1000.85" y1="780.64" x2="936.02" y2="829.53" stroke="#f5f000" stroke-width="1.6" />
<line x1="650.28" y1="420.73" x2="620.52" y2="496.27" stroke="#f5f000" stroke-width="1.6" />
<line x1="835.86" y1="561.80" x2="771.02" y2="610.69" stroke="#f5f000" stroke-width="1.6" />
<line x1="750.09" y1="476.38" x2="701.46" y2="541.41" stroke="#f5f000" stroke-width="1.6" />
<line x1="755.48" y1="480.48" x2="705.84" y2="544.73" stroke="#f5f000" stroke-width="1.6" />
<line x1="452.00" y1="358.20" x2="688.00" y2="468.40" stroke="#d8d8d8" stroke-width="1.3" />
<line x1="677.50" y1="412.50" x2="625.00" y2="522.50" stroke="#e8e8e8" stroke-width="1.2" />
<polyline points="664.00,473.20 704.00,488.60 732.20,497.80 742.00,505.00 751.00,517.60 770.80,544.70 784.30,561.40 801.00,584.30" fill="none" stroke="#8c8c8c" stroke-width="1.1" stroke-dasharray="5,3"/>
<line x1="376.93" y1="576.48" x2="526.83" y2="195.94" stroke="#5cd0d8" stroke-width="1.1" stroke-dasharray="5,2.6"/>
<line x1="424.50" y1="595.22" x2="574.40" y2="214.68" stroke="#5cd0d8" stroke-width="1.1" stroke-dasharray="5,2.6"/>
<line x1="472.07" y1="613.96" x2="621.97" y2="233.42" stroke="#5cd0d8" stroke-width="1.1" stroke-dasharray="5,2.6"/>
<line x1="519.64" y1="632.69" x2="669.54" y2="252.15" stroke="#5cd0d8" stroke-width="1.1" stroke-dasharray="5,2.6"/>
<line x1="563.64" y1="650.06" x2="720.62" y2="272.38" stroke="#5cd0d8" stroke-width="1.1" stroke-dasharray="5,2.6"/>
<line x1="585.36" y1="660.81" x2="790.47" y2="306.96" stroke="#5cd0d8" stroke-width="1.1" stroke-dasharray="5,2.6"/>
<line x1="605.48" y1="674.31" x2="855.20" y2="350.40" stroke="#5cd0d8" stroke-width="1.1" stroke-dasharray="5,2.6"/>
<line x1="623.66" y1="690.34" x2="913.67" y2="401.94" stroke="#5cd0d8" stroke-width="1.1" stroke-dasharray="5,2.6"/>
<line x1="639.58" y1="708.60" x2="964.88" y2="460.70" stroke="#5cd0d8" stroke-width="1.1" stroke-dasharray="5,2.6"/>
<line x1="669.72" y1="748.58" x2="996.30" y2="502.36" stroke="#5cd0d8" stroke-width="1.1" stroke-dasharray="5,2.6"/>
<line x1="700.50" y1="789.40" x2="1027.08" y2="543.18" stroke="#5cd0d8" stroke-width="1.1" stroke-dasharray="5,2.6"/>
<line x1="731.28" y1="830.23" x2="1057.86" y2="584.00" stroke="#5cd0d8" stroke-width="1.1" stroke-dasharray="5,2.6"/>
<line x1="762.06" y1="871.05" x2="1088.64" y2="624.82" stroke="#5cd0d8" stroke-width="1.1" stroke-dasharray="5,2.6"/>
<polygon points="378.6,576.9 383.0,566.1 385.3,573.5" fill="#00e400"/>
<polygon points="426.2,595.6 430.5,584.8 432.9,592.3" fill="#00e400"/>
<polygon points="473.7,614.3 478.1,603.5 480.4,611.0" fill="#00e400"/>
<polygon points="521.3,633.1 525.7,622.3 528.0,629.8" fill="#00e400"/>
<polygon points="565.3,650.5 569.9,639.8 572.1,647.3" fill="#00e400"/>
<polygon points="587.0,661.4 592.9,651.4 594.1,659.2" fill="#00e400"/>
<polygon points="607.0,675.2 614.2,666.0 614.3,673.8" fill="#00e400"/>
<polygon points="625.0,691.4 633.4,683.2 632.5,691.0" fill="#00e400"/>
<polygon points="640.8,709.8 650.1,702.8 648.3,710.4" fill="#00e400"/>
<polygon points="670.9,749.8 680.3,742.9 678.4,750.4" fill="#00e400"/>
<polygon points="701.7,790.6 711.1,783.7 709.2,791.3" fill="#00e400"/>
<polygon points="732.5,831.4 741.9,824.5 739.9,832.1" fill="#00e400"/>
<polygon points="763.3,872.3 772.6,865.3 770.7,872.9" fill="#00e400"/>
<text x="502.2" y="399.0" font-family="Liberation Sans" font-weight="bold" font-size="7.2" fill="#ffff00" text-anchor="middle" dominant-baseline="central" textLength="15" lengthAdjust="spacingAndGlyphs" transform="rotate(21.5 502.2 399.0)">1+00</text>
<text x="691.0" y="479.4" font-family="Liberation Sans" font-weight="bold" font-size="7.2" fill="#ffff00" text-anchor="middle" dominant-baseline="central" textLength="15" lengthAdjust="spacingAndGlyphs" transform="rotate(30.0 691.0 479.4)">2+00</text>
<text x="840.3" y="621.5" font-family="Liberation Sans" font-weight="bold" font-size="7.2" fill="#ffff00" text-anchor="middle" dominant-baseline="central" textLength="15" lengthAdjust="spacingAndGlyphs" transform="rotate(53.0 840.3 621.5)">3+00</text>
<text x="649.5" y="432.2" font-family="Liberation Sans" font-weight="bold" font-size="7.2" fill="#ffff00" text-anchor="middle" dominant-baseline="central" textLength="40" lengthAdjust="spacingAndGlyphs" transform="rotate(-68.5 649.5 432.2)">PC 1+71.45</text>
<text x="748.7" y="488.6" font-family="Liberation Sans" font-weight="bold" font-size="7.2" fill="#ffff00" text-anchor="middle" dominant-baseline="central" textLength="40" lengthAdjust="spacingAndGlyphs" transform="rotate(-52.8 748.7 488.6)">MC 2+23.71</text>
<text x="831.3" y="570.7" font-family="Liberation Sans" font-weight="bold" font-size="7.2" fill="#ffff00" text-anchor="middle" dominant-baseline="central" textLength="40" lengthAdjust="spacingAndGlyphs" transform="rotate(-37.0 831.3 570.7)">PT 2+75.98</text>
</g>
<text style="white-space:pre" x="521.90" y="352.80" font-family="Liberation Sans" font-style="normal" font-weight="normal" font-size="13.04" fill="#c9a82a" textLength="55.61" lengthAdjust="spacingAndGlyphs" stroke="#c9a82a" stroke-width="0.35">2D-каркас</text>
<path d="M462.5,586 V636.5 H512.5" stroke="#e8e8e8" stroke-width="1.2" fill="none"/>
<rect x="458.3" y="631.5" width="9" height="9" fill="none" stroke="#e8e8e8" stroke-width="1.2"/>
<path d="M464,570 L470.5,576 L477,570 M470.5,576 V581.5" stroke="#e8e8e8" stroke-width="1.3" fill="none"/>
<path d="M517.5,623.5 L529.5,634.5 M529.5,623.5 L517.5,634.5" stroke="#e8e8e8" stroke-width="1.4" fill="none"/>
<circle cx="861.1" cy="371.9" r="22.8" fill="none" stroke="#2e2e2e" stroke-width="5.2"/>
<rect x="849.4" y="360.3" width="23" height="23" fill="#a8a8a8" stroke="#b4b4b4" stroke-width="0.8"/>
<rect x="854" y="365.4" width="13.8" height="13.4" fill="#9e9fa8"/>
<text x="861.6" y="375.2" font-family="Liberation Sans" font-size="6.2" fill="#3a3a3a" text-anchor="middle" textLength="19" lengthAdjust="spacingAndGlyphs">Сверху</text>
<text x="860.6" y="351.2" font-family="Liberation Sans" font-size="8.8" fill="#c8c8c8" text-anchor="middle">С</text>
<text x="837" y="374.8" font-family="Liberation Sans" font-size="8.8" fill="#c8c8c8" text-anchor="middle">З</text>
<text x="885.3" y="375.2" font-family="Liberation Sans" font-size="8.8" fill="#c8c8c8" text-anchor="middle">В</text>
<text x="860.9" y="399.6" font-family="Liberation Sans" font-size="8.8" fill="#c8c8c8" text-anchor="middle">Ю</text>
<polygon points="856.8,352 856.8,360.6 848.7,360.6" fill="#00e000"/>
<path d="M861.5,340.5 C861,336.5 864,335.5 865.5,338.5 C866.5,341 868.5,341 869.5,336.5" stroke="#40c8e8" stroke-width="1.3" fill="none"/>
<rect x="838.8" y="409.8" width="43.6" height="18.6" rx="4" fill="#8c8c96" stroke="#9c9ca6" stroke-width="1"/>
<text x="842.7" y="422.7" font-family="Liberation Sans" font-size="9.4" fill="#4c4c52" textLength="20.3" lengthAdjust="spacingAndGlyphs">МСК</text>
<path d="M869.6,416.6 L877.6,416.6 L873.6,420.6 Z" fill="#a8a8b2" stroke="#c0c0c8" stroke-width="0.6"/>
<rect x="453.5" y="337.5" width="443" height="307" fill="none" stroke="#0a50b8" stroke-width="3"/>
<rect x="452.5" y="336.5" width="445" height="309" fill="none" stroke="#042f70" stroke-width="1"/>
</svg>
</body></html>
